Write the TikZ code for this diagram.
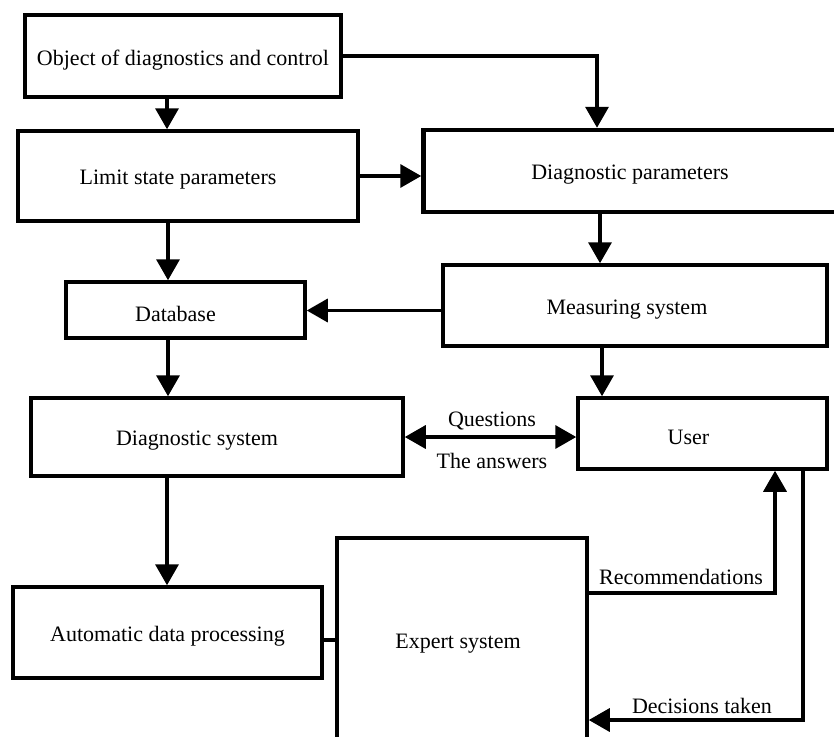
\documentclass[tikz,border=0pt]{standalone}
\usepackage{fontspec}
\setmainfont{Liberation Serif}
\usetikzlibrary{arrows.meta}
\newcommand{\boxtext}[2][0pt]{\raisebox{-4pt}[\height][\depth]{#2\kern#1}}
\begin{document}
\begin{tikzpicture}[x=1pt,y=-1pt,
  box/.style={draw=black,line width=3.5pt,fill=white,inner sep=0pt,font=\fontsize{22}{26}\selectfont},
  thickbox/.style={box,line width=4.5pt},
  arr/.style={line width=3.5pt,-{Triangle[width=23pt,length=21pt]}},
  darr/.style={line width=3.5pt,{Triangle[width=23pt,length=21pt]}-{Triangle[width=23pt,length=21pt]}},
  plain/.style={line width=3.5pt},
  lbl/.style={inner sep=0pt,font=\fontsize{22}{26}\selectfont}]
\useasboundingbox (0,0) rectangle (834,736);
\fill[white] (0,0) rectangle (834,736);
% boxes
\node[thickbox,minimum width=316pt,minimum height=82pt] (b1) at (183,56) {\boxtext{Object of diagnostics and control}};
\node[box,minimum width=340pt,minimum height=90pt] (b2) at (188,176) {\boxtext[20pt]{Limit state parameters}};
\node[thickbox,minimum width=413pt,minimum height=82pt] (b3) at (630,171) {\boxtext{Diagnostic parameters}};
\node[box,minimum width=239pt,minimum height=56pt] (db) at (185.5,310) {\boxtext[20pt]{Database}};
\node[box,minimum width=384pt,minimum height=81pt] (ms) at (635,305.5) {\boxtext[16pt]{Measuring system}};
\node[box,minimum width=372pt,minimum height=78pt] (ds) at (217,437) {\boxtext[40pt]{Diagnostic system}};
\node[box,minimum width=249pt,minimum height=71pt] (us) at (702.5,433.5) {\boxtext[28pt]{User}};
\node[box,minimum width=309pt,minimum height=91pt] (ad) at (167.5,632.5) {\boxtext{Automatic data processing}};
\node[box,minimum width=250pt,minimum height=204pt] (ex) at (462,640) {\boxtext[8pt]{Expert system}};
% helper coordinates
\coordinate (c1) at ([xshift=-16pt]b1.south);
\coordinate (c2) at ([xshift=-33pt]b3.north);
\coordinate (c3) at ([xshift=-20pt]b2.south);
\coordinate (c4) at ([xshift=-30pt]b3.south);
\coordinate (c5) at ([yshift=-5pt]ms.west);
\coordinate (c6) at ([xshift=-17.5pt]db.south);
\coordinate (c7) at ([xshift=-33pt]ms.south);
\coordinate (c8) at ([xshift=-50pt]ds.south);
\coordinate (c9) at ([yshift=-7.5pt]ad.east);
\coordinate (c10) at ([yshift=47pt]ex.east);
\coordinate (c11) at ([xshift=72.5pt]us.south);
\coordinate (c12) at ([xshift=100.5pt]us.south);
\coordinate (c13) at ([yshift=-80pt]ex.east);
% connectors
\draw[arr] (c1) -- (c1 |- b2.north);
\draw[arr] (b1.east) -| (c2);
\draw[arr] (b2.east) -- (b2.east -| b3.west);
\draw[arr] (c3) -- (c3 |- db.north);
\draw[arr] (c4) -- (c4 |- ms.north);
\draw[arr] (c5) -- (c5 -| db.east);
\draw[arr] (c6) -- (c6 |- ds.north);
\draw[arr] (c7) -- (c7 |- us.north);
\draw[darr] (ds.east) -- (ds.east -| us.west);
\draw[arr] (c8) -- (c8 |- ad.north);
\draw[plain] (c9) -- (c9 -| ex.west);
\draw[arr] (c10) -| (c11);
\draw[arr] (c12) |- (c13);
% labels
\node[lbl] (q) at (492,421) {Questions};
\node[lbl] (a) at (492,461) {The answers};
\node[lbl] (r) at (681,577) {Recommendations};
\node[lbl] (d) at (702,706) {Decisions taken};
\end{tikzpicture}
\end{document}
